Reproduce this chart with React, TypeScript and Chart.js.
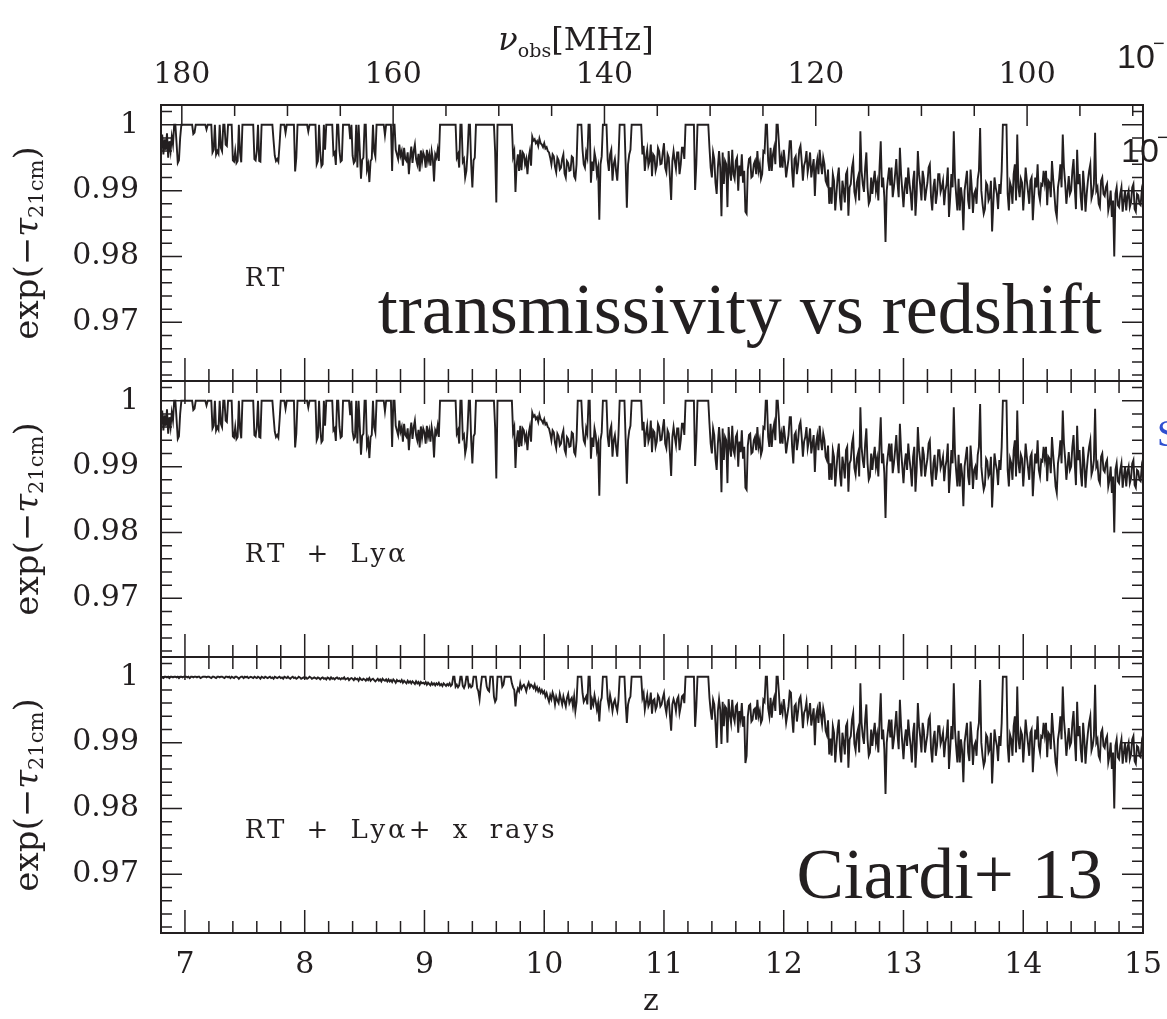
import { useEffect, useRef } from "react";
import { Chart, registerables } from "chart.js";

Chart.register(...registerables);

// ---------------- data ----------------
// spectra are sampled on a uniform redshift grid (one row below = 0.1 in z)
const Z_START = 6.8;
const Z_STEP = 0.01;

const zTicks = [7, 8, 9, 10, 11, 12, 13, 14, 15];
const yTicks = [0.97, 0.98, 0.99, 1];
const freqTicks = [180, 160, 140, 120, 100];
const panelLabels = ["RT", "RT + Lyα", "RT + Lyα+ x rays"];

// panel 1: RT
const expTauRT = [
  .9968, .9985, .9955, .9978, .9962, .9987, .9950, .9975, .9960, .9982,
  .9970, 1, 1, .9972, .9942, .9946, .9980, 1, 1, 1,
  1, 1, 1, 1, 1, 1, 1, .9986, .9988, 1,
  1, 1, 1, 1, 1, 1, 1, 1, .9993, 1,
  1, 1, 1, .9958, .9962, 1, .9955, .9960, .9956, 1,
  .9965, .9960, 1, 1, .9970, .9968, 1, 1, 1, 1,
  .9946, .9944, .9960, .9942, .9945, 1, .9958, .9943, 1, 1,
  1, 1, 1, 1, 1, 1, 1, 1, .9948, .9946,
  .9960, 1, .9945, .9944, 1, 1, 1, 1, 1, 1,
  1, 1, 1, 1, .9976, .9953, .9945, .9948, .9944, .9970,
  1, 1, 1, 1, .9988, 1, 1, 1, 1, 1,
  1, 1, .9929, .9950, 1, 1, 1, 1, 1, 1,
  1, 1, 1, .9990, 1, 1, 1, 1, 1, 1,
  .9940, .9945, 1, .9958, .9937, .9940, 1, .9962, 1, 1,
  1, 1, 1, 1, .9955, .9958, .9939, 1, 1, .9961,
  .9944, .9946, 1, 1, 1, 1, 1, 1, .9978, 1,
  .9953, .9942, .9945, 1, .9935, 1, .9961, .9918, .9947, .9950,
  1, 1, .9932, .9940, .9913, .9945, .9948, 1, .9960, .9952,
  1, 1, 1, 1, 1, 1, 1, .9984, 1, 1,
  1, 1, 1, .9930, 1, 1, .9962, .9955, .9948, .9970,
  .9953, .9960, .9938, .9965, .9948, .9945, .9958, .9925, .9950, .9967,
  .9942, .9960, .9970, .9948, .9940, .9956, .9929, .9961, .9944, .9958,
  .9952, .9935, .9962, .9945, .9955, .9938, .9960, .9948, .9914, .9955,
  .9950, .9962, .9945, 1, 1, 1, 1, 1, 1, 1,
  1, 1, 1, 1, 1, 1, 1, .9950, .9955, .9935,
  1, 1, .9944, .9948, .9920, .9930, .9958, 1, 1, .9940,
  .9905, .9946, .9950, 1, 1, 1, 1, 1, 1, 1,
  1, 1, 1, 1, 1, 1, 1, 1, 1, .9960,
  .9882, 1, 1, 1, 1, 1, 1, 1, 1, 1,
  1, 1, 1, 1, .9952, .9960, .9898, .9940, .9955, .9930,
  .9962, .9931, .9958, .9955, .9940, .9948, .9925, .9950, .9960, .9938,
  .9982, .9976, .9978, .9972, .9975, .9968, .9979, .9972, .9970, .9966,
  .9972, .9964, .9966, .9960, .9958, .9950, .9940, .9955, .9952, .9936,
  .9928, .9950, .9946, .9932, .9935, .9948, .9955, .9926, .9920, .9945,
  .9942, .9930, .9931, .9952, .9950, .9922, .9918, .9940, 1, 1,
  1, 1, .9962, .9940, .9935, .9958, .9950, 1, 1, .9912,
  .9944, .9930, .9958, .9948, .9925, .9935, .9856, .9940, .9952, 1,
  1, 1, 1, .9946, .9930, .9955, .9962, .9915, .9940, .9948,
  .9930, .9915, .9948, 1, 1, 1, 1, 1, .9940, .9874,
  .9940, .9955, .9962, 1, 1, 1, 1, 1, 1, 1,
  1, 1, .9955, .9968, .9930, .9950, .9962, .9938, .9945, .9970,
  .9922, .9955, .9952, .9930, .9938, .9965, .9960, .9940, .9941, .9958,
  .9972, .9935, .9928, .9955, .9950, .9918, .9886, .9945, .9960, .9945,
  .9933, .9958, .9958, .9925, .9940, .9965, .9965, .9948, 1, 1,
  1, 1, 1, 1, 1, 1, .9901, .9940, 1, 1,
  1, 1, 1, 1, 1, 1, 1, 1, .9965, .9935,
  .9920, .9958, .9948, .9912, .9895, .9935, .9960, .9935, .9861, .9958,
  .9910, .9945, .9940, .9875, .9960, .9930, .9915, .9962, .9925, .9918,
  .9945, .9950, .9900, .9938, .9922, .9955, .9912, .9930, .9868, .9865,
  .9932, .9948, .9950, .9920, .9922, .9940, .9945, .9925, .9960, .9930,
  .9940, .9918, .9925, .9960, .9958, 1, 1, .9945, .9930, .9965,
  .9930, .9955, .9965, .9940, 1, 1, .9972, .9935, .9950, .9935,
  .9962, .9945, .9920, .9935, .9948, .9975, .9975, .9930, .9905, .9948,
  .9952, .9925, .9940, .9962, .9968, .9945, .9915, .9938, .9945, .9960,
  .9928, .9940, .9958, .9920, .9935, .9948, .9892, .9935, .9947, .9925,
  .9962, .9940, .9925, .9950, .9940, .9915, .9910, .9932, .9880, .9905,
  .9880, .9925, .9915, .9870, .9895, .9920, .9935, .9888, .9870, .9915,
  .9902, .9882, .9925, .9930, .9862, .9905, .9910, .9935, .9945, .9898,
  .9888, .9912, .9920, .9885, .9990, .9930, .9910, .9898, .9935, .9958,
  .9905, .9880, .9885, .9920, .9895, .9915, .9930, .9900, .9912, .9885,
  .9935, .9975, .9905, .9920, .9890, .9822, .9900, .9918, .9935, .9908,
  .9935, .9890, .9905, .9925, .9948, .9912, .9890, .9965, .9925, .9900,
  .9875, .9905, .9920, .9895, .9935, .9912, .9895, .9870, .9915, .9930,
  .9862, .9895, .9960, .9925, .9908, .9885, .9930, .9918, .9885, .9900,
  .9912, .9935, .9940, .9890, .9870, .9905, .9918, .9880, .9895, .9925,
  .9925, .9898, .9905, .9915, .9878, .9900, .9910, .9935, .9860, .9890,
  .9925, .9905, .9990, .9920, .9893, .9870, .9918, .9870, .9905, .9888,
  .9840, .9900, .9915, .9930, .9885, .9872, .9932, .9905, .9866, .9895,
  .9900, .9880, .9918, .9930, .9995, .9900, .9880, .9865, .9872, .9912,
  .9908, .9885, .9890, .9915, .9838, .9880, .9920, .9905, .9895, .9872,
  .9910, .9895, .9930, 1, 1, 1, 1, .9895, .9870, .9912,
  .9905, .9880, .9925, .9940, .9885, .9985, .9905, .9890, .9918, .9912,
  .9870, .9900, .9935, .9915, .9898, .9880, .9915, .9920, .9855, .9890,
  .9920, .9905, .9940, .9895, .9885, .9910, .9908, .9930, .9912, .9930,
  .9878, .9915, .9912, .9890, .9945, .9918, .9895, .9870, .9860, .9905,
  .9918, .9940, .9905, .9985, .9935, .9912, .9880, .9900, .9922, .9895,
  .9900, .9930, .9948, .9905, .9872, .9962, .9910, .9925, .9890, .9870,
  .9930, .9905, .9868, .9895, .9915, .9930, .9940, .9888, .9895, .9910,
  .9988, .9900, .9905, .9880, .9875, .9915, .9920, .9895, .9892, .9905,
  .9910, .9870, .9880, .9900, .9860, .9885, .9800, .9895, .9905, .9878,
  .9875, .9895, .9905, .9868, .9885, .9900, .9870, .9892, .9900, .9875,
  .9882, .9905, .9910, .9872, .9868, .9895, .9893, .9880, .9878, .9900,
  .9890,
];

// panel 2: RT + Lya (indistinguishable from panel 1 at the figure's resolution)
const expTauRTLya = expTauRT;

// panel 3: RT + Lya + x rays
const expTauXray = [
  1, .9999, .9998, 1, 1, .9999, 1, .9998, 1, 1,
  .9999, 1, 1, .9999, 1, .9998, 1, 1, .9999, 1,
  1, 1, .9999, 1, .9998, 1, 1, .9999, 1, 1,
  .9999, 1, 1, .9998, .9999, 1, 1, 1, .9999, 1,
  1, .9999, .9998, 1, 1, .9999, .9998, 1, 1, .9999,
  1, 1, .9999, .9998, 1, 1, .9999, 1, .9998, 1,
  .9999, .9998, 1, 1, .9999, .9997, .9999, 1, 1, .9998,
  1, .9999, 1, .9998, .9999, 1, .9999, .9998, 1, .9999,
  .9998, 1, .9999, .9997, 1, .9999, .9998, 1, .9999, .9998,
  .9999, 1, .9998, .9999, .9997, 1, .9999, .9998, .9999, 1,
  .9998, .9999, .9997, 1, .9999, .9998, 1, .9998, .9997, .9999,
  1, .9998, .9999, .9997, .9998, 1, .9999, .9997, .9998, .9999,
  .9998, .9999, .9997, .9998, 1, .9999, .9997, .9998, .9999, .9998,
  .9997, .9999, .9998, .9996, .9998, .9999, .9997, .9998, .9996, .9999,
  .9998, .9996, .9999, .9997, .9998, .9996, .9998, .9999, .9997, .9998,
  .9996, .9998, .9997, .9999, .9996, .9997, .9998, .9995, .9997, .9998,
  .9997, .9995, .9998, .9996, .9997, .9994, .9998, .9996, .9995, .9997,
  .9996, .9994, .9997, .9995, .9998, .9994, .9996, .9997, .9995, .9993,
  .9995, .9997, .9994, .9996, .9993, .9997, .9995, .9994, .9996, .9993,
  .9996, .9993, .9995, .9992, .9996, .9994, .9991, .9995, .9993, .9994,
  .9992, .9995, .9991, .9994, .9992, .9990, .9994, .9991, .9993, .9990,
  .9993, .9991, .9989, .9993, .9990, .9992, .9988, .9992, .9990, .9991,
  .9989, .9992, .9988, .9991, .9989, .9987, .9991, .9988, .9990, .9987,
  .9990, .9988, .9991, .9987, .9989, .9986, .9990, .9988, .9986, .9989,
  .9987, .9990, .9986, .9988, 1, 1, .9985, .9988, .9984, .9987,
  1, 1, .9986, .9983, .9988, 1, 1, .9985, .9988, .9984,
  .9986, 1, 1, 1, .9983, .9978, .9966, .9985, 1, 1,
  1, 1, .9985, .9980, .9978, 1, 1, 1, .9970, .9962,
  .9966, 1, 1, 1, 1, .9985, .9988, 1, 1, 1,
  1, 1, 1, .9990, .9984, .9980, .9955, .9975, .9982, .9978,
  .9990, .9982, .9986, .9988, .9984, .9978, .9986, .9991, .9984, .9988,
  .9986, .9983, .9988, .9980, .9984, .9978, .9982, .9976, .9980, .9975,
  .9978, .9970, .9975, .9968, .9962, .9972, .9966, .9976, .9970, .9958,
  .9970, .9964, .9960, .9974, .9966, .9958, .9970, .9962, .9955, .9968,
  .9974, .9960, .9965, .9968, .9955, .9970, .9948, .9962, 1, 1,
  1, 1, .9975, .9962, .9966, .9970, .9958, 1, 1, .9950,
  .9965, .9958, .9972, .9962, .9950, .9960, .9932, .9962, .9968, 1,
  1, 1, 1, .9966, .9955, .9972, .9962, .9948, .9960, .9965,
  .9955, .9948, .9965, 1, 1, 1, 1, 1, .9960, .9930,
  .9958, .9966, .9970, 1, 1, 1, 1, 1, 1, 1,
  1, 1, .9968, .9975, .9950, .9962, .9972, .9955, .9960, .9976,
  .9944, .9964, .9966, .9950, .9955, .9972, .9968, .9955, .9958, .9968,
  .9975, .9955, .9945, .9962, .9966, .9940, .9918, .9958, .9966, .9960,
  .9948, .9966, .9970, .9945, .9955, .9970, .9972, .9960, 1, 1,
  1, 1, 1, 1, 1, 1, .9924, .9955, 1, 1,
  1, 1, 1, 1, 1, 1, 1, 1, .9968, .9948,
  .9935, .9965, .9958, .9930, .9892, .9948, .9966, .9950, .9898, .9962,
  .9925, .9955, .9952, .9900, .9966, .9942, .9930, .9965, .9940, .9932,
  .9955, .9958, .9915, .9948, .9935, .9960, .9924, .9940, .9869, .9880,
  .9940, .9956, .9958, .9932, .9935, .9950, .9952, .9935, .9965, .9940,
  .9948, .9930, .9935, .9965, .9962, 1, 1, .9952, .9940, .9968,
  .9938, .9960, .9968, .9948, 1, 1, .9975, .9942, .9955, .9945,
  .9966, .9950, .9930, .9942, .9955, .9978, .9976, .9938, .9915, .9955,
  .9958, .9932, .9948, .9966, .9970, .9950, .9922, .9945, .9950, .9962,
  .9935, .9945, .9960, .9926, .9940, .9952, .9896, .9940, .9950, .9930,
  .9962, .9942, .9928, .9952, .9942, .9918, .9912, .9934, .9882, .9906,
  .9880, .9925, .9915, .9870, .9895, .9920, .9935, .9888, .9870, .9915,
  .9902, .9882, .9925, .9930, .9862, .9905, .9910, .9935, .9945, .9898,
  .9888, .9912, .9920, .9885, .9990, .9930, .9910, .9898, .9935, .9958,
  .9905, .9880, .9885, .9920, .9895, .9915, .9930, .9900, .9912, .9885,
  .9935, .9975, .9905, .9920, .9890, .9822, .9900, .9918, .9935, .9908,
  .9935, .9890, .9905, .9925, .9948, .9912, .9890, .9965, .9925, .9900,
  .9875, .9905, .9920, .9895, .9935, .9912, .9895, .9870, .9915, .9930,
  .9862, .9895, .9960, .9925, .9908, .9885, .9930, .9918, .9885, .9900,
  .9912, .9935, .9940, .9890, .9870, .9905, .9918, .9880, .9895, .9925,
  .9925, .9898, .9905, .9915, .9878, .9900, .9910, .9935, .9860, .9890,
  .9925, .9905, .9990, .9920, .9893, .9870, .9918, .9870, .9905, .9888,
  .9840, .9900, .9915, .9930, .9885, .9872, .9932, .9905, .9866, .9895,
  .9900, .9880, .9918, .9930, .9995, .9900, .9880, .9865, .9872, .9912,
  .9908, .9885, .9890, .9915, .9838, .9880, .9920, .9905, .9895, .9872,
  .9910, .9895, .9930, 1, 1, 1, 1, .9895, .9870, .9912,
  .9905, .9880, .9925, .9940, .9885, .9985, .9905, .9890, .9918, .9912,
  .9870, .9900, .9935, .9915, .9898, .9880, .9915, .9920, .9855, .9890,
  .9920, .9905, .9940, .9895, .9885, .9910, .9908, .9930, .9912, .9930,
  .9878, .9915, .9912, .9890, .9945, .9918, .9895, .9870, .9860, .9905,
  .9918, .9940, .9905, .9985, .9935, .9912, .9880, .9900, .9922, .9895,
  .9900, .9930, .9948, .9905, .9872, .9962, .9910, .9925, .9890, .9870,
  .9930, .9905, .9868, .9895, .9915, .9930, .9940, .9888, .9895, .9910,
  .9988, .9900, .9905, .9880, .9875, .9915, .9920, .9895, .9892, .9905,
  .9910, .9870, .9880, .9900, .9860, .9885, .9800, .9895, .9905, .9878,
  .9875, .9895, .9905, .9868, .9885, .9900, .9870, .9892, .9900, .9875,
  .9882, .9905, .9910, .9872, .9868, .9895, .9893, .9880, .9878, .9900,
  .9890,
];

// ---------------- layout / style ----------------
const W = 1167;
const H = 1019;
const PLOT_RIGHT = 1143;
const PLOT_LEFT = 161;
const PANEL_TOPS = [105, 381, 657];
const PANEL_H = 276;
const TOP_AXIS_H = 100;
const BOTTOM_AXIS_H = 62;
const Z_MIN = 6.8;
const Z_MAX = 15;
const Y_MIN = 0.9611;
const Y_MAX = 1.003;
const F_MIN = 89.03;
const F_MAX = 181.97;
const INK = "#231f20";
const SERIF = "'DejaVu Serif', serif";
const TIMES = "'Liberation Serif', 'Times New Roman', serif";

type Part = { t: string; font: string; dy?: number };

function drawParts(ctx: CanvasRenderingContext2D, parts: Part[], x: number, y: number, align: "left" | "center" | "right") {
  let total = 0;
  const widths = parts.map((p) => {
    ctx.font = p.font;
    const w = ctx.measureText(p.t).width;
    total += w;
    return w;
  });
  let cx = align === "left" ? x : align === "center" ? x - total / 2 : x - total;
  ctx.textAlign = "left";
  parts.forEach((p, i) => {
    ctx.font = p.font;
    ctx.fillText(p.t, cx, y + (p.dy || 0));
    cx += widths[i];
  });
}

function panelPlugin(k: number) {
  return {
    id: "panelDeco" + k,
    afterDraw(chart: any) {
      const { ctx, chartArea: a, scales } = chart;
      const xs = scales.x;
      const ys = scales.y;
      ctx.save();
      ctx.strokeStyle = INK;
      ctx.fillStyle = INK;
      ctx.lineWidth = 1.5;
      ctx.beginPath();
      for (let m = 481; m <= 501; m++) {
        const py = ys.getPixelForValue(m * 0.002);
        const len = m % 5 === 0 ? 21 : 11;
        ctx.moveTo(a.left, py);
        ctx.lineTo(a.left + len, py);
        ctx.moveTo(a.right, py);
        ctx.lineTo(a.right - len, py);
      }
      for (let m = 35; m <= 74; m++) {
        const px = xs.getPixelForValue(m * 0.2);
        const len = m % 5 === 0 ? 23 : 12;
        ctx.moveTo(px, a.bottom);
        ctx.lineTo(px, a.bottom - len);
        if (k > 0) {
          ctx.moveTo(px, a.top);
          ctx.lineTo(px, a.top + len);
        }
      }
      if (k === 0) {
        const fs = scales.x2;
        for (let f = 90; f <= 180; f += 5) {
          const px = fs.getPixelForValue(f);
          const len = f % 20 === 0 ? 21 : 11;
          ctx.moveTo(px, a.top);
          ctx.lineTo(px, a.top + len);
        }
      }
      ctx.stroke();
      ctx.lineWidth = 2;
      ctx.strokeRect(a.left, a.top, a.right - a.left, a.bottom - a.top);

      // y-axis title
      ctx.save();
      ctx.translate(29, (a.top + a.bottom) / 2);
      ctx.rotate(-Math.PI / 2);
      ctx.textBaseline = "middle";
      drawParts(
        ctx,
        [
          { t: "exp(−", font: `34px ${SERIF}` },
          { t: "τ", font: `italic 34px ${SERIF}` },
          { t: "21cm", font: `21px ${SERIF}`, dy: 9 },
          { t: ")", font: `34px ${SERIF}` },
        ],
        0,
        0,
        "center"
      );
      ctx.restore();

      // panel label
      ctx.textBaseline = "middle";
      ctx.font = `26px ${SERIF}`;
      (ctx as any).letterSpacing = "3px";
      (ctx as any).wordSpacing = "8px";
      ctx.textAlign = "left";
      ctx.fillText(panelLabels[k], xs.getPixelForValue(7.5), ys.getPixelForValue(0.9765));
      (ctx as any).letterSpacing = "0px";
      (ctx as any).wordSpacing = "0px";

      ctx.textBaseline = "alphabetic";
      if (k === 0) {
        ctx.font = `72px ${TIMES}`;
        ctx.textAlign = "center";
        ctx.fillText("transmissivity vs redshift", xs.getPixelForValue(11.633), ys.getPixelForValue(0.96839));
        drawParts(
          ctx,
          [
            { t: "ν", font: `italic 32px ${SERIF}` },
            { t: "obs", font: `19px ${SERIF}`, dy: 7 },
            { t: "[MHz]", font: `32px ${SERIF}` },
          ],
          576,
          50,
          "center"
        );
        // fragments of a neighbouring figure visible at the right edge
        ctx.font = `34px 'Liberation Sans Narrow', 'Liberation Sans', sans-serif`;
        ctx.textAlign = "left";
        ctx.fillText("10", 1117, 68);
        ctx.fillText("10", 1121, 162);
        ctx.font = `20px 'Liberation Sans', sans-serif`;
        ctx.fillText("−", 1153, 50);
        ctx.fillText("−", 1157, 144);
        ctx.fillStyle = "#2f4fd0";
        ctx.font = `38px 'Liberation Serif', serif`;
        ctx.fillText("S", 1157, 446);
        ctx.fillStyle = INK;
      }
      if (k === 2) {
        ctx.font = `71px ${TIMES}`;
        ctx.textAlign = "right";
        ctx.fillText("Ciardi+ 13", xs.getPixelForValue(14.663), ys.getPixelForValue(0.9664));
        ctx.font = `30px ${SERIF}`;
        ctx.textAlign = "center";
        ctx.fillText("z", xs.getPixelForValue(10.89), 1010);
      }
      ctx.restore();
    },
  };
}

function makeConfig(k: number, values: number[]): any {
  const top = PANEL_TOPS[k];
  const bottom = top + PANEL_H;
  const isTop = k === 0;
  const isBottom = k === 2;
  const tickFont = { family: SERIF, size: 30 };
  const scales: any = {
    x: {
      type: "linear",
      position: "bottom",
      min: Z_MIN,
      max: Z_MAX,
      display: isBottom,
      afterBuildTicks: (s: any) => {
        s.ticks = zTicks.map((value) => ({ value }));
      },
      afterFit: (s: any) => {
        s.height = isBottom ? BOTTOM_AXIS_H : 0;
        s.paddingLeft = 0;
        s.paddingRight = 0;
      },
      grid: { display: false, drawTicks: false },
      border: { display: false },
      ticks: { font: tickFont, color: INK, padding: 14, maxRotation: 0, autoSkip: false, callback: (v: any) => String(v) },
    },
    y: {
      type: "linear",
      position: "left",
      min: Y_MIN,
      max: Y_MAX,
      afterBuildTicks: (s: any) => {
        s.ticks = yTicks.map((value) => ({ value }));
      },
      afterFit: (s: any) => {
        s.width = PLOT_LEFT;
        s.paddingTop = 0;
        s.paddingBottom = 0;
      },
      grid: { display: false, drawTicks: false },
      border: { display: false },
      ticks: {
        font: tickFont,
        color: INK,
        padding: 22,
        autoSkip: false,
        callback: (v: any) => (Number(v) === 1 ? "1" : Number(v).toFixed(2)),
      },
    },
  };
  if (isTop) {
    scales.x2 = {
      type: "linear",
      position: "top",
      min: F_MIN,
      max: F_MAX,
      reverse: true,
      afterBuildTicks: (s: any) => {
        s.ticks = freqTicks.map((value) => ({ value }));
      },
      afterFit: (s: any) => {
        s.height = TOP_AXIS_H;
        s.paddingLeft = 0;
        s.paddingRight = 0;
      },
      grid: { display: false, drawTicks: false },
      border: { display: false },
      ticks: { font: tickFont, color: INK, padding: 12, maxRotation: 0, autoSkip: false, callback: (v: any) => String(v) },
    };
  }
  return {
    type: "line",
    data: {
      datasets: [
        {
          data: values.map((v, i) => ({ x: Z_START + i * Z_STEP, y: v })),
          borderColor: INK,
          borderWidth: 1.9,
          pointRadius: 0,
          tension: 0,
          fill: false,
          xAxisID: "x",
          yAxisID: "y",
        },
      ],
    },
    options: {
      responsive: false,
      animation: false,
      devicePixelRatio: 1,
      events: [],
      layout: {
        autoPadding: false,
        padding: {
          left: 0,
          right: W - PLOT_RIGHT,
          top: isTop ? top - TOP_AXIS_H : top,
          bottom: isBottom ? H - bottom - BOTTOM_AXIS_H : H - bottom,
        },
      },
      plugins: { legend: { display: false }, tooltip: { enabled: false } },
      scales,
    },
    plugins: [panelPlugin(k)],
  };
}

export default function App() {
  const r0 = useRef<HTMLCanvasElement>(null);
  const r1 = useRef<HTMLCanvasElement>(null);
  const r2 = useRef<HTMLCanvasElement>(null);
  const refs = [r0, r1, r2];

  useEffect(() => {
    const series = [expTauRT, expTauRTLya, expTauXray];
    const charts = refs.map((r, k) => new Chart(r.current as HTMLCanvasElement, makeConfig(k, series[k])));
    return () => charts.forEach((c) => c.destroy());
  }, []);

  return (
    <div style={{ position: "fixed", left: 0, top: 0, width: W, height: H, background: "#fff", overflow: "hidden" }}>
      {refs.map((r, k) => (
        <canvas
          key={k}
          ref={r}
          width={W}
          height={H}
          style={{ position: "absolute", left: 0, top: 0, width: W, height: H }}
        />
      ))}
    </div>
  );
}
